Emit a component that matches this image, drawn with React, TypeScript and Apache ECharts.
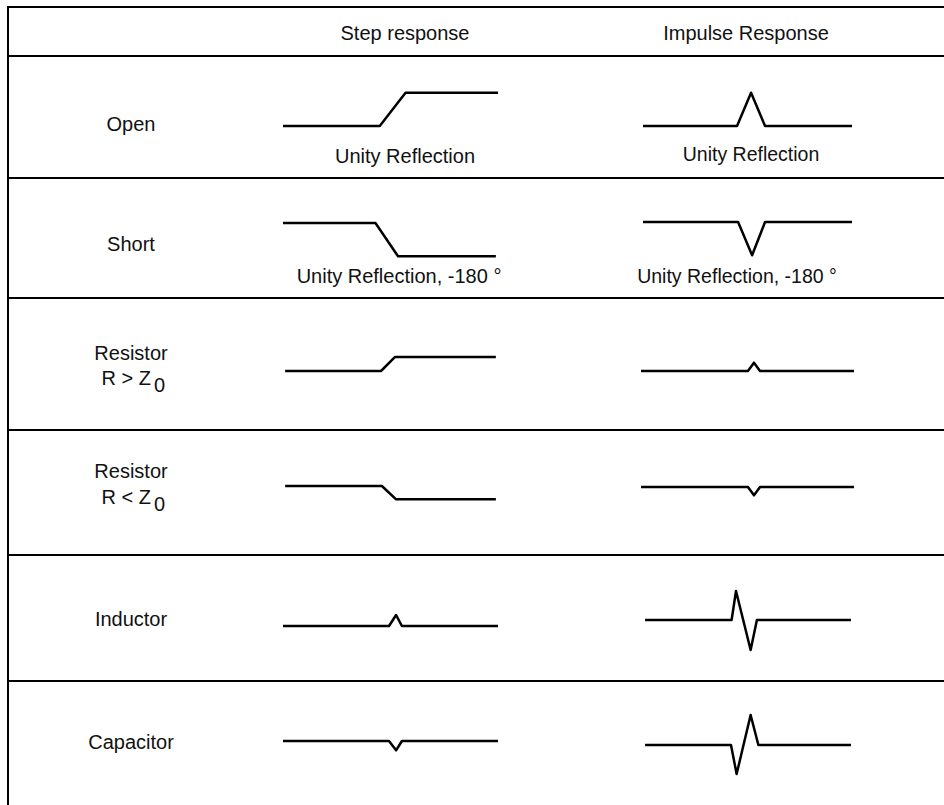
import React, { useEffect, useRef } from "react";
import * as echarts from "echarts";

// ---- Data ----
const columnHeaders = ["Step response", "Impulse Response"];
const rowLabels = ["Open", "Short", "Resistor", "Resistor", "Inductor", "Capacitor"];
const rowSubLabels = ["", "", "R > Z", "R < Z", "", ""];
const subscript = "0";
const stepNotes = ["Unity Reflection", "Unity Reflection, -180 °", "", "", "", ""];
const impulseNotes = ["Unity Reflection", "Unity Reflection, -180 °", "", "", "", ""];

// waveforms: [time, reflection amplitude]
const openStep = [[0, 0], [45, 0], [57, 1], [100, 1]];
const shortStep = [[0, 0], [43, 0], [53.5, -1], [99, -1]];
const rHighStep = [[1, 0], [45.6, 0], [52, 0.42], [99, 0.42]];
const rLowStep = [[1, 0], [46, 0], [52.6, -0.4], [99, -0.4]];
const inductorStep = [[0, 0], [49.3, 0], [52.6, 0.33], [55.3, 0], [100, 0]];
const capacitorStep = [[0, 0], [49.3, 0], [52.6, -0.28], [55.3, 0], [100, 0]];

const openImpulse = [[0, 0], [45, 0], [51.7, 1], [58.4, 0], [100, 0]];
const shortImpulse = [[0, 0], [45.5, 0], [52.2, -1], [58.4, 0], [100, 0]];
const rHighImpulse = [[-1, 0], [50.2, 0], [53.1, 0.25], [56, 0], [101, 0]];
const rLowImpulse = [[-1, 0], [50.2, 0], [53.1, -0.25], [56, 0], [101, 0]];
const inductorImpulse = [[1, 0], [42.4, 0], [44.5, 0.87], [51.5, -0.9], [54.5, 0], [99.5, 0]];
const capacitorImpulse = [[1, 0], [42.1, 0], [44.8, -0.87], [51.5, 0.9], [55.2, 0], [99.5, 0]];

const stepWaves = [openStep, shortStep, rHighStep, rLowStep, inductorStep, capacitorStep];
const impulseWaves = [openImpulse, shortImpulse, rHighImpulse, rLowImpulse, inductorImpulse, capacitorImpulse];

// ---- Layout ----
const W = 944;
const H = 805;
const rowLines = [7, 56, 178, 298, 430, 555, 681];
const leftX = 8;
const stepBase = [126, 223, 371, 486, 626, 741];
const impulseBase = [126, 222, 371, 487, 620, 745];
const stepCol = { left: 283, width: 215 };
const impCol = { left: 643, width: 209 };
const headerX = [405, 746];
const headerY = 33;
const labelX = 131;
const labelY = [124, 244, 353, 471, 619, 742];
const subLabelY = [0, 0, 378, 497, 0, 0];
const subRightX = 151;
const stepNoteX = [405, 399];
const impNoteX = [751, 737];
const stepNoteY = [156, 276];
const impNoteY = [154, 276];
const FS = 20;
const YR = 1.2;
const UNIT = 33.3;
const FONT = '"Liberation Sans", Arial, sans-serif';

export default function App() {
  const ref = useRef<HTMLDivElement>(null);
  useEffect(() => {
    document.body.style.margin = "0";
    const chart = echarts.init(ref.current!, undefined, { renderer: "svg" });
    const grids: any[] = [];
    const xAxes: any[] = [];
    const yAxes: any[] = [];
    const series: any[] = [];
    const addCell = (col: { left: number; width: number }, base: number, data: number[][], name: string) => {
      const idx = grids.length;
      grids.push({ left: col.left, width: col.width, top: base - YR * UNIT, height: 2 * YR * UNIT, show: false });
      xAxes.push({ type: "value", gridIndex: idx, min: 0, max: 100, show: false });
      yAxes.push({ type: "value", gridIndex: idx, min: -YR, max: YR, show: false });
      series.push({
        type: "line",
        name,
        xAxisIndex: idx,
        yAxisIndex: idx,
        data,
        symbol: "none",
        silent: true,
        lineStyle: { color: "#000", width: 2.5, join: "round", cap: "butt" },
      });
    };
    rowLabels.forEach((r, i) => {
      addCell(stepCol, stepBase[i], stepWaves[i], r + " step");
      addCell(impCol, impulseBase[i], impulseWaves[i], r + " impulse");
    });

    const graphics: any[] = [];
    rowLines.forEach((y) => {
      graphics.push({ type: "line", shape: { x1: leftX - 1, y1: y, x2: W, y2: y }, style: { stroke: "#000", lineWidth: 2 }, silent: true });
    });
    graphics.push({ type: "line", shape: { x1: leftX, y1: rowLines[0] - 1, x2: leftX, y2: H }, style: { stroke: "#000", lineWidth: 2 }, silent: true });

    const txt = (text: string, x: number, y: number, size: number, align = "center") => ({
      type: "text",
      x,
      y,
      silent: true,
      style: { text, fill: "#111", font: `${size}px ${FONT}`, align, verticalAlign: "middle" },
    });
    graphics.push(txt(columnHeaders[0], headerX[0], headerY, FS));
    graphics.push(txt(columnHeaders[1], headerX[1], headerY, FS));
    rowLabels.forEach((r, i) => {
      graphics.push(txt(r, labelX, labelY[i], FS));
      if (rowSubLabels[i]) {
        graphics.push(txt(rowSubLabels[i], subRightX, subLabelY[i], FS, "right"));
        graphics.push(txt(subscript, subRightX + 3, subLabelY[i] + 7, FS, "left"));
      }
      if (stepNotes[i]) graphics.push(txt(stepNotes[i], stepNoteX[i], stepNoteY[i], FS));
      if (impulseNotes[i]) graphics.push(txt(impulseNotes[i], impNoteX[i], impNoteY[i], 19.5));
    });

    chart.setOption({
      animation: false,
      backgroundColor: "#fff",
      grid: grids,
      xAxis: xAxes,
      yAxis: yAxes,
      series,
      graphic: graphics,
    });
    return () => chart.dispose();
  }, []);
  return <div ref={ref} style={{ width: W, height: H }} />;
}
